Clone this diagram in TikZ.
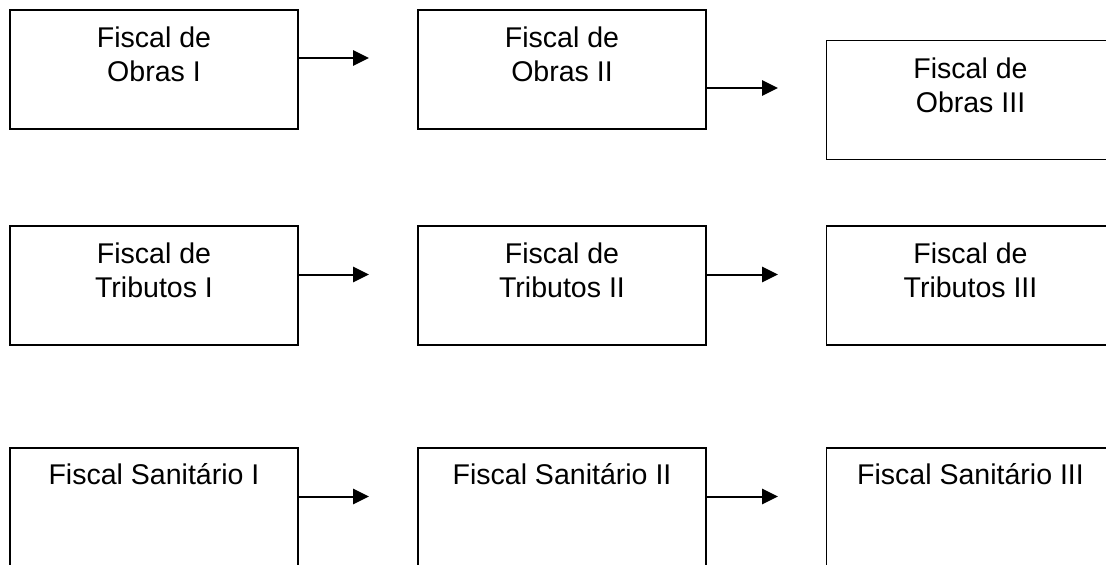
\documentclass[tikz,border=0pt]{standalone}
\usepackage{fontspec}
\setmainfont{Liberation Sans}
\usetikzlibrary{arrows.meta,calc}
\begin{document}
\begin{tikzpicture}[x=0.75pt,y=-0.75pt,
  box/.style={draw=black,line width=1.35pt,fill=none,rectangle,minimum width=216pt,minimum height=89.25pt,inner sep=0pt},
  lbl/.style={inner sep=0pt,align=center,font={\fontsize{21.4}{25.5}\selectfont},text=black},
  arr/.style={draw=black,line width=1.5pt,-{Triangle[length=12pt,width=11.5pt]}}]
\clip (0,0) rectangle (1106,564);
\fill[white] (0,0) rectangle (1106,564);
% row 1
\node[box] (o1) at (154,69.5) {};
\node[box] (o2) at (562,69.5) {};
\node[box] (o3) at (970.5,100) {};
\node[lbl,anchor=north] (o1t) at ($(o1.north)+(0,17.5)$) {Fiscal de\\Obras I};
\node[lbl,anchor=north] (o2t) at ($(o2.north)+(0,17.5)$) {Fiscal de\\Obras II};
\node[lbl,anchor=north] (o3t) at ($(o3.north)+(0,17.5)$) {Fiscal de\\Obras III};
% row 2
\node[box] (t1) at (154,285.5) {};
\node[box] (t2) at (562,285.5) {};
\node[box] (t3) at (970.5,285.5) {};
\node[lbl,anchor=north] (t1t) at ($(t1.north)+(0,17.5)$) {Fiscal de\\Tributos I};
\node[lbl,anchor=north] (t2t) at ($(t2.north)+(0,17.5)$) {Fiscal de\\Tributos II};
\node[lbl,anchor=north] (t3t) at ($(t3.north)+(0,17.5)$) {Fiscal de\\Tributos III};
% row 3
\node[box] (s1) at (154,507.5) {};
\node[box] (s2) at (562,507.5) {};
\node[box] (s3) at (970.5,507.5) {};
\node[lbl,anchor=base] (s1t) at ($(s1.north)+(0,37.5)$) {Fiscal Sanitário I};
\node[lbl,anchor=base] (s2t) at ($(s2.north)+(0,37.5)$) {Fiscal Sanitário II};
\node[lbl,anchor=base] (s3t) at ($(s3.north)+(0,37.5)$) {Fiscal Sanitário III};
% arrow tips
\coordinate (ao1) at (369,58);
\coordinate (ao2) at (778,88);
\coordinate (at1) at (369,274.5);
\coordinate (at2) at (778,274.5);
\coordinate (as1) at (369,496.5);
\coordinate (as2) at (778,496.5);
\draw[arr] (o1.east |- ao1) -- (ao1);
\draw[arr] (o2.east |- ao2) -- (ao2);
\draw[arr] (t1.east |- at1) -- (at1);
\draw[arr] (t2.east |- at2) -- (at2);
\draw[arr] (s1.east |- as1) -- (as1);
\draw[arr] (s2.east |- as2) -- (as2);
\end{tikzpicture}
\end{document}
